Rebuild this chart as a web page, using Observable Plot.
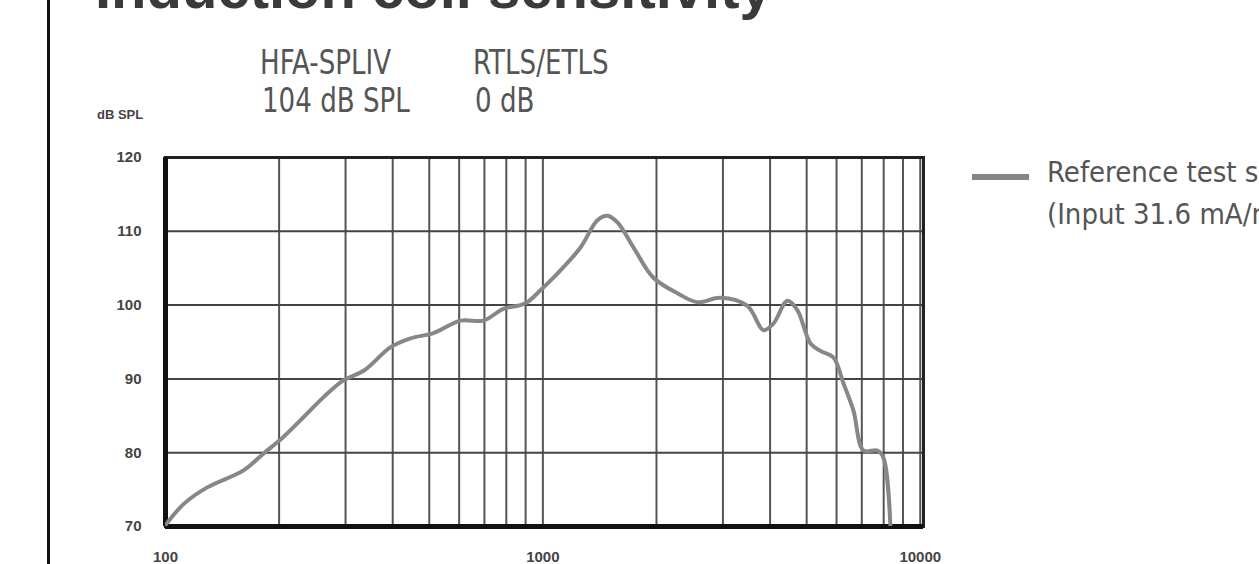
<!DOCTYPE html>
<html>
<head>
<meta charset="utf-8">
<script src="https://cdn.jsdelivr.net/npm/d3@7"></script>
<script src="https://cdn.jsdelivr.net/npm/@observablehq/plot@0.6"></script>
<style>
  html, body { margin: 0; padding: 0; background: #fff; }
  #page { position: relative; width: 1259px; height: 564px; overflow: hidden; background: #fff; }
  #chart { position: absolute; left: 0; top: 0; }
  .t { position: absolute; white-space: nowrap; line-height: 1; }
  .narrow { font-family: "Liberation Sans Narrow", "DejaVu Sans Condensed", sans-serif; color: #555; transform-origin: 0 0; }
  .hdr { font-size: 33px; transform: scaleX(0.88); }
</style>
</head>
<body>
<div id="page">
  <div id="chart"></div>
  <div class="t" style="left:47px;top:0;width:3px;height:564px;background:#111;"></div>
  <div class="t" style="left:95px;top:-46px;font:bold 58px 'Liberation Sans', sans-serif;color:#3a3a3a;">Induction coil sensitivity</div>
  <div class="t narrow hdr" style="left:260px;top:46px;">HFA-SPLIV</div>
  <div class="t narrow hdr" style="left:262px;top:84px;">104 dB SPL</div>
  <div class="t narrow hdr" style="left:473px;top:46px;">RTLS/ETLS</div>
  <div class="t narrow hdr" style="left:475px;top:84px;">0 dB</div>
  <div class="t" style="left:97px;top:107px;font:bold 13px 'Liberation Sans', sans-serif;color:#444;">dB SPL</div>
  <div class="t" style="left:972px;top:174px;width:57px;height:6px;background:#858585;"></div>
  <div class="t narrow" style="left:1047px;top:158px;font-size:29px;">Reference test setting</div>
  <div class="t narrow" style="left:1047px;top:200px;font-size:29px;">(Input 31.6 mA/m)</div>
</div>
<script>
// Frequency response (Hz) and level (dB SPL)
const freqs  = [100, 112, 129, 161, 182, 205, 232, 262, 296, 335, 395, 446, 513, 605, 696, 786, 872, 910, 985, 1028, 1113, 1258, 1395, 1483, 1576, 1739, 1964, 2273, 2568, 2955, 3484, 3842, 4083, 4447, 4727, 5118, 5440, 5889, 6258, 6653, 7071, 7700, 7990, 8337];
const levels = [70.2, 73.1, 75.3, 77.6, 79.9, 82.1, 84.8, 87.5, 89.8, 91.1, 94.3, 95.5, 96.2, 97.9, 97.9, 99.5, 100.0, 100.4, 102.0, 102.9, 104.7, 107.8, 111.5, 112.1, 111.2, 107.8, 103.7, 101.6, 100.4, 101.0, 99.9, 96.6, 97.5, 100.6, 99.3, 94.8, 93.8, 92.9, 89.4, 85.7, 80.3, 80.3, 79.3, 69.9];
// Axis ticks and grid
const xTicks = [100, 1000, 10000];
const xGrid  = [200, 300, 400, 500, 600, 700, 800, 900, 1000, 2000, 3000, 4000, 5000, 6000, 7000, 8000, 9000, 10000];
const yTicks = [70, 80, 90, 100, 110, 120];
const yGrid  = [80, 90, 100, 110];

const data = freqs.map((f, i) => ({f, db: levels[i]}));

const chart = Plot.plot({
  width: 1259,
  height: 564,
  marginLeft: 165,
  marginRight: 336,
  marginTop: 157,
  marginBottom: 38,
  x: {type: "log", domain: [100, 10200]},
  y: {domain: [70, 120]},
  style: {background: "transparent", fontFamily: "'Liberation Sans', sans-serif", color: "#444"},
  marks: [
    Plot.ruleX(xGrid, {stroke: "#555", strokeWidth: 2}),
    Plot.ruleY(yGrid, {stroke: "#444", strokeWidth: 2}),
    Plot.frame({stroke: "#222", strokeWidth: 3}),
    Plot.ruleX([xTicks[0]], {stroke: "#111", strokeWidth: 5}),
    Plot.ruleY([yTicks[0]], {stroke: "#111", strokeWidth: 5}),
    Plot.line(data, {x: "f", y: "db", stroke: "#878787", strokeWidth: 4, curve: "catmull-rom", clip: true}),
    Plot.axisY(yTicks, {tickSize: 0, tickPadding: 24, fontSize: 15, fontWeight: "bold", label: null}),
    Plot.axisX(xTicks, {tickSize: 0, tickPadding: 25, fontSize: 15, fontWeight: "bold", label: null, tickFormat: d => String(d)})
  ]
});
document.getElementById("chart").appendChild(chart);
</script>
</body>
</html>
